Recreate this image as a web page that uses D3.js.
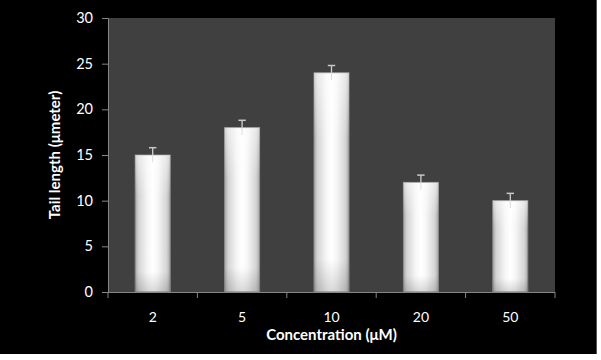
<!DOCTYPE html>
<html>
<head>
<meta charset="utf-8">
<script src="https://cdn.jsdelivr.net/npm/d3@7"></script>
<style>
html,body{margin:0;padding:0;background:#fff;}
svg{display:block;}
</style>
</head>
<body>
<svg id="chart" width="601" height="360"></svg>
<script>
const categories = ["2", "5", "10", "20", "50"];
const values = [15, 18, 24, 12, 10];
const errors = [0.8, 0.8, 0.8, 0.8, 0.8];
const yTicks = [0, 5, 10, 15, 20, 25, 30];
const xTitle = "Concentration (\u03BCM)";
const yTitle = "Tail length (\u03BCmeter)";

const svg = d3.select("#chart");
const plot = {left: 108, top: 18, right: 555, bottom: 292};
const font = "Lato, 'Open Sans', sans-serif";

svg.append("rect").attr("x", 0).attr("y", 0).attr("width", 596).attr("height", 354).attr("fill", "#000");
svg.append("line").attr("x1", 596.5).attr("x2", 596.5).attr("y1", 0).attr("y2", 354).attr("stroke", "#555");

const x = d3.scaleBand().domain(categories).range([plot.left, plot.right]).paddingInner(0).paddingOuter(0);
const y = d3.scaleLinear().domain([0, 30]).range([plot.bottom, plot.top]);

svg.append("rect").attr("x", plot.left).attr("y", plot.top)
  .attr("width", plot.right - plot.left).attr("height", plot.bottom - plot.top)
  .attr("fill", "#404040");

const defs = svg.append("defs");
const gh = defs.append("linearGradient").attr("id", "gh").attr("x1", 0).attr("x2", 1).attr("y1", 0).attr("y2", 0);
[[0, "#a8a8a8"], [0.1, "#d4d4d4"], [0.35, "#f6f6f6"], [0.5, "#ffffff"], [0.65, "#f6f6f6"], [0.9, "#d4d4d4"], [1, "#a8a8a8"]]
  .forEach(([o, c]) => gh.append("stop").attr("offset", o).attr("stop-color", c));
const gv = defs.append("linearGradient").attr("id", "gv").attr("x1", 0).attr("x2", 0).attr("y1", 0).attr("y2", 1);
[[0, "#ffffff", 0.5], [0.3, "#ffffff", 0], [0.85, "#000000", 0], [1, "#000000", 0.15]]
  .forEach(([o, c, op]) => gv.append("stop").attr("offset", o).attr("stop-color", c).attr("stop-opacity", op));

const barW = 35;
const bars = svg.append("g");
categories.forEach((c, i) => {
  const cx = x(c) + x.bandwidth() / 2;
  const bx = cx - barW / 2, by = y(values[i]), bh = y(0) - y(values[i]);
  bars.append("rect").attr("x", bx).attr("y", by).attr("width", barW).attr("height", bh)
    .attr("fill", "url(#gh)").attr("stroke", "#8a8a8a").attr("stroke-width", 1);
  bars.append("rect").attr("x", bx).attr("y", by).attr("width", barW).attr("height", bh)
    .attr("fill", "url(#gv)");
  const eTop = y(values[i] + errors[i]), eBot = y(values[i] - errors[i]);
  bars.append("line").attr("x1", cx).attr("x2", cx).attr("y1", eTop).attr("y2", by)
    .attr("stroke", "#d0d0d0").attr("stroke-width", 1.3);
  bars.append("line").attr("x1", cx).attr("x2", cx).attr("y1", by).attr("y2", eBot)
    .attr("stroke", "#dcdcdc").attr("stroke-width", 1);
  bars.append("line").attr("x1", cx - 3.7).attr("x2", cx + 3.7).attr("y1", eTop).attr("y2", eTop)
    .attr("stroke", "#c8c8c8").attr("stroke-width", 1.5);
});

const yAxis = svg.append("g").attr("transform", `translate(${plot.left},0)`)
  .call(d3.axisLeft(y).tickValues(yTicks).tickSize(6).tickPadding(9));
yAxis.select(".domain").attr("stroke", "#868686");
yAxis.selectAll(".tick line").attr("stroke", "#868686");
yAxis.selectAll("text").attr("fill", "#fff").attr("font-family", font).attr("font-size", 14.5);

const xAxis = svg.append("g").attr("transform", `translate(0,${plot.bottom})`)
  .call(d3.axisBottom(x).tickSize(0).tickPadding(20));
xAxis.select(".domain").attr("stroke", "#868686").attr("d", `M${plot.left},0.5H${plot.right}`);
xAxis.selectAll("text").attr("fill", "#fff").attr("font-family", font).attr("font-size", 14);
const bounds = categories.map(c => x(c)).concat([plot.right]);
xAxis.selectAll(".bnd").data(bounds).enter().append("line")
  .attr("x1", d => d).attr("x2", d => d).attr("y1", 0).attr("y2", 6)
  .attr("stroke", "#868686");

svg.append("text").attr("x", (plot.left + plot.right) / 2).attr("y", 339.5)
  .attr("text-anchor", "middle").attr("fill", "#fff").attr("font-family", font)
  .attr("font-weight", "bold").attr("font-size", 15).text(xTitle);

svg.append("text").attr("transform", `translate(60,155) rotate(-90)`)
  .attr("text-anchor", "middle").attr("fill", "#fff").attr("font-family", font)
  .attr("font-weight", "bold").attr("font-size", 15).text(yTitle);
</script>
</body>
</html>
